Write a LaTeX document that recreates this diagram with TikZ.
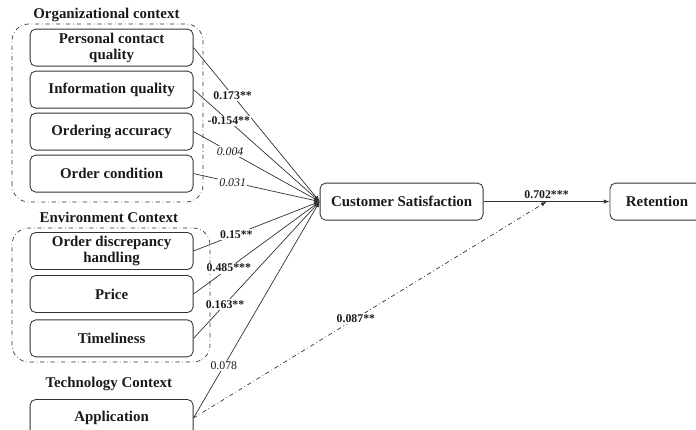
\documentclass[tikz,border=0pt]{standalone}
\usepackage{fontspec}
\setmainfont{Liberation Serif}
\usetikzlibrary{arrows.meta, positioning, calc}
\definecolor{cLine}{HTML}{333333}
\definecolor{cText}{HTML}{1A1A1A}
\tikzset{
  factorbox/.style={
    draw=cLine, rounded corners=4pt,
    minimum width=4.075cm, minimum height=0.925cm,
    font=\fontsize{10.6}{11.5}\selectfont\bfseries, text=cText, line width=0.6pt,
    align=center, inner sep=2pt,
  },
  groupbox/.style={
    draw=cLine, dash dot, rounded corners=12pt, line width=0.5pt,
  },
  ctxlabel/.style={font=\fontsize{10.6}{12}\selectfont\bfseries, text=cText, inner sep=1pt},
  pathlbl/.style={fill=white, inner sep=1pt, font=\fontsize{8.4}{10}\selectfont, text=cText},
  arw/.style={-{Latex[length=4pt, width=3pt]}, line width=0.5pt, color=cLine},
}

\begin{document}
\begin{tikzpicture}
  \useasboundingbox (0,0) rectangle (17.4,10.75);
  \clip (0,0) rectangle (17.4,10.75);

  % Context groups
  \draw[groupbox] (0.3,5.7) rectangle (5.075,10.15);
  \draw[groupbox] (0.3,1.7) rectangle (5.25,5.05);
  \node[ctxlabel] (orgctx) at (2.66,10.375) {Organizational context};
  \node[ctxlabel] (envctx) at (2.72,5.325) {Environment Context};
  \node[ctxlabel] (techctx) at (2.72,1.15) {Technology Context};

  % Antecedents
  \node[factorbox] (pcq) at (2.79,9.56) {Personal contact\\quality};
  \node[factorbox] (iq) at (2.79,8.51) {Information quality};
  \node[factorbox] (oa) at (2.79,7.46) {Ordering accuracy};
  \node[factorbox] (oc) at (2.79,6.41) {Order condition};
  \node[factorbox] (odh) at (2.79,4.475) {Order discrepancy\\handling};
  \node[factorbox] (price) at (2.79,3.4) {Price};
  \node[factorbox] (time) at (2.79,2.29) {Timeliness};
  \node[factorbox] (app) at (2.79,0.3) {Application};

  % Outcomes
  \node[factorbox] (cs) at (10.04,5.71) {Customer Satisfaction};
  \node[factorbox, minimum width=2.35cm] (ret) at (16.425,5.71) {Retention};
  \coordinate (join) at ($(cs.east)!0.5!(ret.west)$);

  % Paths into satisfaction
  \foreach \src/\p/\lbl in {pcq/0.31/\textbf{0.173**}, iq/0.28/\textbf{-0.154**},
      oa/0.29/\textit{0.004}, oc/0.31/\textit{0.031}, odh/0.34/\textbf{0.15**},
      price/0.28/\textbf{0.485***}, time/0.25/\textbf{0.163**}, app/0.24/0.078} {
    \draw[arw] (\src.east) -- node[pathlbl, pos=\p] {\lbl} (cs.west);
  }

  \draw[arw] (cs) -- node[pathlbl, above=1pt] {\textbf{0.702***}} (ret);
  \draw[arw, dash dot] (app.east) -- node[pathlbl, pos=0.46] {\textbf{0.087**}} (join);
\end{tikzpicture}
\end{document}
